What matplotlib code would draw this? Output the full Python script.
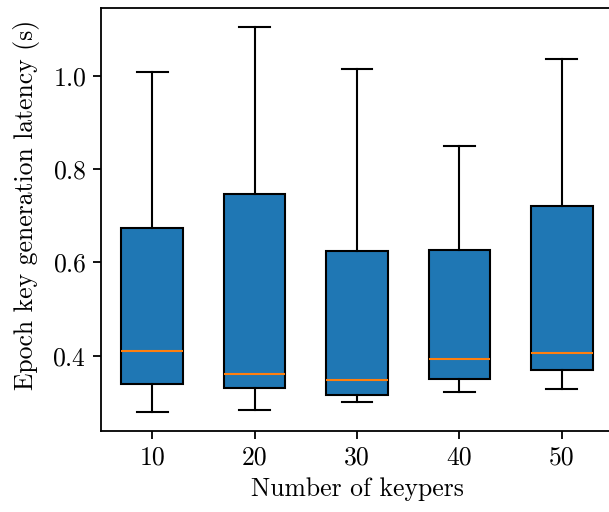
import matplotlib
matplotlib.use("Agg")
import matplotlib.pyplot as plt

plt.rcParams['font.family'] = ['cmr10', 'DejaVu Serif']
plt.rcParams['mathtext.fontset'] = 'cm'
plt.rcParams['axes.formatter.use_mathtext'] = True

keypers = ["10", "20", "30", "40", "50"]
whisker_low = [0.280, 0.283, 0.301, 0.322, 0.329]
q1 = [0.340, 0.330, 0.316, 0.350, 0.370]
median = [0.411, 0.361, 0.349, 0.394, 0.407]
q3 = [0.673, 0.747, 0.624, 0.627, 0.720]
whisker_high = [1.009, 1.104, 1.014, 0.849, 1.035]

stats = []
for i in range(len(keypers)):
    stats.append({
        "label": keypers[i],
        "whislo": whisker_low[i],
        "q1": q1[i],
        "med": median[i],
        "q3": q3[i],
        "whishi": whisker_high[i],
        "fliers": [],
    })

fig = plt.figure(figsize=(6.09, 5.12), dpi=100)
ax = fig.add_axes([101 / 609, 1 - 431 / 512, 512 / 609, 423 / 512])

lw = 1.5
ax.bxp(stats, widths=0.6, patch_artist=True, showfliers=False,
       boxprops=dict(facecolor="#1f77b4", edgecolor="black", linewidth=lw),
       medianprops=dict(color="#ff7f0e", linewidth=lw),
       whiskerprops=dict(color="black", linewidth=lw),
       capprops=dict(color="black", linewidth=lw))

for s in ax.spines.values():
    s.set_linewidth(1.3)
fs = 18.5
ax.tick_params(labelsize=fs, width=1.3, length=5.5, pad=5)
ax.set_xlabel("Number of keypers", fontsize=fs, labelpad=6)
ax.set_ylabel("Epoch key generation latency (s)", fontsize=fs)
ax.yaxis.set_label_coords(-0.12, 0.535)

fig.savefig("out.png", dpi=100)
